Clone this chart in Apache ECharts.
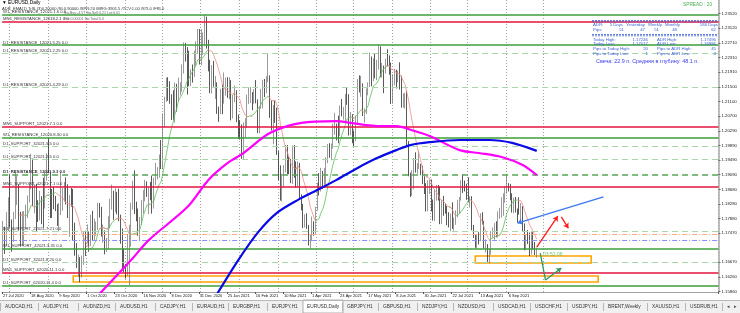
<!DOCTYPE html>
<html>
<head>
<meta charset="utf-8">
<script src="https://cdn.jsdelivr.net/npm/echarts@6.0.0/dist/echarts.min.js"></script>
<style>
html,body{margin:0;padding:0;background:#ffffff;}
#chart{width:740px;height:313px;}
</style>
</head>
<body>
<div id="chart"></div>
<script>
// ---------------- DATA ----------------
const firstBarDate = '2020-07-27';
const skippedDays = ['2020-12-25', '2021-01-01'];
const futureBars = 103;

const opens = [
1.1655,1.1753,1.1718,1.1791,1.1845,
1.1778,1.1762,1.1800,1.1867,1.1874,1.1785,1.1737,1.1739,1.1785,1.1813,1.1842,1.1870,1.1930,1.1834,1.1848,1.1796,1.1794,1.1832,1.1831,1.1819,1.1902,
1.1936,1.1914,1.1854,1.1850,1.1838,1.1816,1.1778,1.1800,1.1815,1.1845,1.1865,1.1846,1.1815,1.1849,1.1836,1.1772,1.1703,1.1657,1.1672,1.1632,1.1667,1.1744,
1.1720,1.1748,1.1714,1.1783,1.1735,1.1759,1.1762,1.1823,1.1813,1.1743,1.1747,1.1706,1.1717,1.1768,1.1819,1.1859,1.1815,1.1860,1.1810,1.1794,1.1745,1.1676,
1.1647,1.1641,1.1716,1.1720,1.1827,1.1875,1.1815,1.1812,1.1740,1.1777,1.1833,1.1855,1.1858,1.1850,1.1870,1.1857,1.1840,1.1892,1.1915,1.1915,1.1962,
1.1926,1.2071,1.2113,1.2147,1.2122,1.2109,1.2102,1.2078,1.2131,1.2111,1.2146,1.2152,1.2198,1.2264,1.2254,1.2240,1.2165,1.2189,1.2186,1.2214,1.2248,1.2298,
1.2216,1.2248,1.2297,1.2325,1.2271,1.2219,1.2151,1.2208,1.2156,1.2158,1.2081,1.2078,1.2131,1.2108,1.2165,1.2170,1.2142,1.2160,1.2113,1.2120,
1.2136,1.2060,1.2041,1.2036,1.1963,1.2048,1.2048,1.2118,1.2119,1.2133,1.2118,1.2130,1.2105,1.2040,1.2093,1.2118,1.2155,1.2151,1.2166,1.2172,
1.2075,1.2047,1.2090,1.2063,1.1967,1.1915,1.1846,1.1900,1.1929,1.1984,1.1951,1.1930,1.1901,1.1977,1.1915,1.1905,1.1940,1.1851,1.1816,1.1765,1.1795,1.1765,1.1720,
1.1728,1.1777,1.1762,1.1814,1.1874,1.1870,1.1915,1.1899,1.1911,1.1947,1.1979,1.1965,1.1983,1.2036,1.2036,1.2034,1.2016,1.2097,1.2083,1.2089,1.2125,1.2120,
1.2020,1.2062,1.2016,1.2004,1.2067,1.2164,1.2148,1.2150,1.2071,1.2080,1.2140,1.2152,1.2224,1.2173,1.2227,1.2180,1.2212,1.2246,1.2193,1.2194,1.2193,
1.2225,1.2214,1.2212,1.2125,1.2167,1.2190,1.2174,1.2178,1.2175,1.2108,1.2119,1.2125,1.1995,1.1908,1.1862,1.1917,1.1940,1.1925,1.1928,1.1935,1.1925,1.1893,
1.1858,1.1846,1.1865,1.1866,1.1822,1.1790,1.1846,1.1876,1.1861,1.1775,1.1835,1.1812,1.1806,1.1800,1.1781,1.1794,1.1771,1.1772,1.1801,1.1817,1.1843,1.1888,
1.1870,1.1869,1.1866,1.1834,1.1834,1.1761,1.1736,1.1718,1.1739,1.1728,1.1796,1.1778,1.1711,1.1712,1.1676,1.1697,1.1749,1.1754,1.1771,1.1753,1.1794,1.1798,
1.1808,1.1840,1.1874,1.1880,1.1870,1.1856,1.1816,1.1824,1.1813,1.1806,1.1804,1.1818,1.1764,1.1725,1.1727,1.1725,1.1688,1.1740,1.1718,1.1696
];
const highs = [
1.1781,1.1765,1.1805,1.1846,1.1909,
1.1785,1.1806,1.1916,1.1906,1.1882,1.1806,1.1807,1.1808,1.1826,1.1851,1.1883,1.1966,1.1952,1.1882,1.1883,1.1838,1.1864,1.1849,1.1900,1.1917,1.1967,
1.2011,1.1917,1.1869,1.1875,1.1850,1.1827,1.1830,1.1917,1.1871,1.1888,1.1901,1.1882,1.1852,1.1872,1.1869,1.1776,1.1720,1.1688,1.1681,1.1685,1.1751,1.1754,
1.1771,1.1752,1.1798,1.1809,1.1787,1.1779,1.1831,1.1830,1.1820,1.1771,1.1755,1.1734,1.1794,1.1842,1.1881,1.1864,1.1871,1.1861,1.1870,1.1798,1.1760,1.1705,
1.1662,1.1745,1.1770,1.1831,1.1892,1.1920,1.1834,1.1815,1.1792,1.1839,1.1866,1.1894,1.1890,1.1874,1.1888,1.1906,1.1900,1.1941,1.1929,1.1964,1.2004,
1.2077,1.2123,1.2176,1.2177,1.2166,1.2130,1.2141,1.2162,1.2159,1.2176,1.2163,1.2212,1.2273,1.2272,1.2260,1.2250,1.2199,1.2212,1.2250,1.2276,1.2310,1.2310,
1.2310,1.2300,1.2349,1.2344,1.2280,1.2225,1.2210,1.2222,1.2180,1.2163,1.2096,1.2145,1.2157,1.2190,1.2176,1.2177,1.2177,1.2169,1.2128,1.2154,
1.2141,1.2074,1.2058,1.2047,1.2052,1.2064,1.2129,1.2149,1.2150,1.2136,1.2144,1.2169,1.2116,1.2096,1.2145,1.2170,1.2172,1.2180,1.2243,1.2182,
1.2113,1.2100,1.2112,1.2093,1.1974,1.1934,1.1911,1.1935,1.1990,1.1990,1.1958,1.1952,1.1989,1.1990,1.1945,1.1945,1.1941,1.1854,1.1828,1.1799,1.1802,1.1770,1.1743,
1.1793,1.1780,1.1820,1.1886,1.1913,1.1927,1.1919,1.1927,1.1956,1.1993,1.1995,1.1994,1.2049,1.2079,1.2049,1.2071,1.2099,1.2117,1.2095,1.2131,1.2150,1.2130,
1.2081,1.2075,1.2030,1.2071,1.2172,1.2182,1.2181,1.2160,1.2091,1.2146,1.2163,1.2245,1.2234,1.2229,1.2242,1.2225,1.2266,1.2262,1.2216,1.2209,1.2228,
1.2254,1.2237,1.2217,1.2185,1.2200,1.2198,1.2195,1.2218,1.2181,1.2132,1.2134,1.2140,1.2001,1.1914,1.1921,1.1954,1.1970,1.1940,1.1975,1.1938,1.1933,1.1904,
1.1885,1.1893,1.1895,1.1895,1.1840,1.1868,1.1880,1.1880,1.1876,1.1838,1.1850,1.1829,1.1822,1.1805,1.1801,1.1832,1.1790,1.1810,1.1839,1.1847,1.1893,1.1909,
1.1892,1.1883,1.1901,1.1849,1.1849,1.1770,1.1742,1.1745,1.1750,1.1802,1.1805,1.1781,1.1730,1.1717,1.1704,1.1753,1.1763,1.1775,1.1780,1.1807,1.1817,1.1846,
1.1857,1.1876,1.1909,1.1885,1.1883,1.1857,1.1845,1.1847,1.1815,1.1846,1.1830,1.1822,1.1774,1.1742,1.1756,1.1749,1.1752,1.1750,1.1723,1.1707
];
const lows = [
1.1640,1.1690,1.1712,1.1753,1.1762,
1.1696,1.1723,1.1786,1.1825,1.1754,1.1711,1.1711,1.1712,1.1760,1.1789,1.1832,1.1868,1.1822,1.1802,1.1753,1.1778,1.1782,1.1772,1.1763,1.1815,1.1892,
1.1912,1.1789,1.1789,1.1813,1.1808,1.1767,1.1752,1.1797,1.1809,1.1834,1.1826,1.1789,1.1737,1.1820,1.1727,1.1685,1.1651,1.1627,1.1612,1.1625,1.1660,1.1684,
1.1719,1.1696,1.1711,1.1726,1.1728,1.1740,1.1756,1.1790,1.1738,1.1721,1.1689,1.1695,1.1702,1.1760,1.1812,1.1784,1.1805,1.1799,1.1780,1.1718,1.1650,1.1640,
1.1622,1.1630,1.1603,1.1710,1.1812,1.1800,1.1780,1.1740,1.1725,1.1770,1.1801,1.1835,1.1847,1.1800,1.1838,1.1801,1.1815,1.1880,1.1895,1.1900,1.1924,
1.1923,1.2039,1.2109,1.2112,1.2104,1.2059,1.2059,1.2052,1.2082,1.2110,1.2127,1.2137,1.2187,1.2220,1.2129,1.2152,1.2152,1.2162,1.2178,1.2208,1.2243,1.2212,
1.2210,1.2238,1.2265,1.2256,1.2193,1.2133,1.2132,1.2151,1.2117,1.2076,1.2054,1.2075,1.2075,1.2104,1.2126,1.2120,1.2116,1.2058,1.2063,1.2108,
1.2053,1.2007,1.2005,1.1952,1.1952,1.2010,1.2038,1.2103,1.2106,1.2086,1.2104,1.2105,1.2023,1.2022,1.2090,1.2091,1.2122,1.2133,1.2163,1.2065,
1.2030,1.1992,1.2051,1.1963,1.1893,1.1837,1.1835,1.1874,1.1915,1.1910,1.1910,1.1885,1.1883,1.1900,1.1873,1.1874,1.1842,1.1810,1.1761,1.1763,1.1759,1.1713,1.1704,
1.1725,1.1740,1.1745,1.1809,1.1851,1.1862,1.1869,1.1873,1.1877,1.1940,1.1955,1.1948,1.1980,1.2018,1.2003,1.1995,1.2015,1.2069,1.2060,1.2055,1.2101,1.2016,
1.2017,1.1995,1.1986,1.2001,1.2051,1.2135,1.2123,1.2070,1.2052,1.2076,1.2127,1.2150,1.2152,1.2166,1.2174,1.2169,1.2198,1.2177,1.2176,1.2133,1.2187,
1.2207,1.2184,1.2103,1.2104,1.2155,1.2146,1.2163,1.2143,1.2093,1.2093,1.2091,1.1989,1.1904,1.1847,1.1850,1.1868,1.1914,1.1911,1.1924,1.1907,1.1882,1.1855,
1.1807,1.1807,1.1855,1.1807,1.1782,1.1781,1.1837,1.1837,1.1772,1.1772,1.1795,1.1801,1.1769,1.1763,1.1752,1.1759,1.1754,1.1770,1.1791,1.1802,1.1837,1.1858,
1.1862,1.1839,1.1832,1.1818,1.1755,1.1734,1.1707,1.1705,1.1716,1.1725,1.1771,1.1705,1.1694,1.1666,1.1664,1.1688,1.1735,1.1729,1.1736,1.1735,1.1787,1.1790,
1.1795,1.1831,1.1856,1.1862,1.1838,1.1804,1.1802,1.1804,1.1776,1.1798,1.1780,1.1751,1.1700,1.1700,1.1717,1.1684,1.1688,1.1702,1.1687,1.1680
];
const closes = [
1.1753,1.1718,1.1791,1.1845,1.1778,
1.1762,1.1800,1.1867,1.1874,1.1785,1.1737,1.1739,1.1785,1.1813,1.1842,1.1870,1.1930,1.1834,1.1848,1.1796,1.1794,1.1832,1.1831,1.1819,1.1902,1.1936,
1.1914,1.1854,1.1850,1.1838,1.1816,1.1778,1.1800,1.1815,1.1845,1.1865,1.1846,1.1815,1.1849,1.1836,1.1772,1.1703,1.1657,1.1672,1.1632,1.1667,1.1744,1.1720,
1.1748,1.1714,1.1783,1.1735,1.1759,1.1762,1.1823,1.1813,1.1743,1.1747,1.1706,1.1717,1.1768,1.1819,1.1859,1.1815,1.1860,1.1810,1.1794,1.1745,1.1676,1.1647,
1.1641,1.1716,1.1720,1.1827,1.1875,1.1815,1.1812,1.1740,1.1777,1.1833,1.1855,1.1858,1.1850,1.1870,1.1857,1.1840,1.1892,1.1915,1.1915,1.1962,1.1926,
1.2071,1.2113,1.2147,1.2122,1.2109,1.2102,1.2078,1.2131,1.2111,1.2146,1.2152,1.2198,1.2264,1.2254,1.2240,1.2165,1.2189,1.2186,1.2214,1.2248,1.2298,1.2216,
1.2248,1.2297,1.2325,1.2271,1.2219,1.2151,1.2208,1.2156,1.2158,1.2081,1.2078,1.2131,1.2108,1.2165,1.2170,1.2142,1.2160,1.2113,1.2120,1.2136,
1.2060,1.2041,1.2036,1.1963,1.2048,1.2048,1.2118,1.2119,1.2133,1.2118,1.2130,1.2105,1.2040,1.2093,1.2118,1.2155,1.2151,1.2166,1.2172,1.2075,
1.2047,1.2090,1.2063,1.1967,1.1915,1.1846,1.1900,1.1929,1.1984,1.1951,1.1930,1.1901,1.1977,1.1915,1.1905,1.1940,1.1851,1.1816,1.1765,1.1795,1.1765,1.1720,1.1728,
1.1777,1.1762,1.1814,1.1874,1.1870,1.1915,1.1899,1.1911,1.1947,1.1979,1.1965,1.1983,1.2036,1.2036,1.2034,1.2016,1.2097,1.2083,1.2089,1.2125,1.2120,1.2020,
1.2062,1.2016,1.2004,1.2067,1.2164,1.2148,1.2150,1.2071,1.2080,1.2140,1.2152,1.2224,1.2173,1.2227,1.2180,1.2212,1.2246,1.2193,1.2194,1.2193,1.2225,
1.2214,1.2212,1.2125,1.2167,1.2190,1.2174,1.2178,1.2175,1.2108,1.2119,1.2125,1.1995,1.1908,1.1862,1.1917,1.1940,1.1925,1.1928,1.1935,1.1925,1.1893,1.1858,
1.1846,1.1865,1.1866,1.1822,1.1790,1.1846,1.1876,1.1861,1.1775,1.1835,1.1812,1.1806,1.1800,1.1781,1.1794,1.1771,1.1772,1.1801,1.1817,1.1843,1.1888,1.1870,
1.1869,1.1866,1.1834,1.1834,1.1761,1.1736,1.1718,1.1739,1.1728,1.1796,1.1778,1.1711,1.1712,1.1676,1.1697,1.1749,1.1754,1.1771,1.1753,1.1794,1.1798,1.1808,
1.1840,1.1874,1.1880,1.1870,1.1856,1.1816,1.1824,1.1813,1.1806,1.1804,1.1818,1.1764,1.1725,1.1727,1.1725,1.1688,1.1740,1.1718,1.1696,1.17025
];

// right price scale labels
const priceTicks = [1.23520,1.23120,1.22710,1.22310,1.21910,1.21500,1.21100,1.20700,1.20290,1.19890,1.19490,1.19090,1.18680,1.18280,1.17880,1.17470,1.16670,1.16260,1.15860];
const yMin = 1.15850, yMax = 1.23898;
// bottom date labels: every 16th bar, up to bar 288
const xLabelStep = 16, xLabelLast = 288;
// vertical dotted grid bars
const gridBars = [4,26,48,70,91,113,135,157,179,200,222,244,265,287,308];

// moving averages: [bar index, price]
const magentaMA = [[55,1.1580],[73,1.1673],[83,1.1728],[105,1.1819],[117,1.1894],[128,1.1941],[137,1.1968],[152,1.2023],[170,1.2051],[190,1.2056],[198,1.2051],[215,1.2042],[224,1.2042],[233,1.2031],[243,1.2015],[260,1.1976],[271,1.1968],[284,1.1957],[296,1.1935],[304,1.1907]];
const blueMA = [[122,1.1580],[134,1.1673],[145,1.1748],[156,1.1803],[168,1.1839],[179,1.1866],[190,1.1894],[202,1.1927],[213,1.1954],[224,1.1976],[232,1.1990],[243,1.1998],[260,1.2004],[277,1.2004],[290,1.1996],[304,1.1974]];
const fastMAPeriod = 10;

// horizontal levels
const levelPrices = [1.2349,1.2330,1.2266,1.2243,1.2150,1.2041,1.2011,1.1986,1.1950,1.1908,1.1875,1.1752,1.1743,1.1729,1.1705,1.1668,1.1638,1.1603];
const levelNames = ['W1_RESISTANCE_12021.1.6 0.0','MN1_RESISTANCE_12018.2.1 0.0','D1_RESISTANCE_12021.5.25 0.0','D1_RESISTANCE_32021.2.25 0.0','D1_RESISTANCE_42021.4.29 0.0','MN1_SUPPORT_12021.7.1 0.0','W1_RESISTANCE_12020.8.30 0.0','D1_SUPPORT_32021.5.5 0.0','D1_SUPPORT_12021.2.5 0.0','D1_RESISTANCE_12021.9.3 0.0','MN1_SUPPORT_42021.7.1 0.0','D1_SUPPORT_22021.7.21 0.0','','','W1_SUPPORT_42021.3.31 0.0','D1_SUPPORT_32021.8.20 0.0','MN1_SUPPORT_62020.11.1 0.0','D1_SUPPORT_62020.11.4 0.0'];
const levelKinds = ['major','monthly','major','minor','minor','monthly','major','minor','minor','key','monthly','minor','adrHigh','adrLow','major','minor','monthly','major'];

// drawn objects (bar index, price)
const zones = [[[269,1.16842],[335,1.16649]],[[40,1.16291],[339,1.16126]]];
const blueTrend = [[342,1.1847],[293,1.1775]];
const redArrows = [[[304,1.1709],[316,1.1794]],[[318,1.1792],[322,1.1761]]];
const greenPath = [[[306,1.1692],[309,1.1618]],[[309,1.1618],[318,1.1651]]];
const timerText = '03:52:08', timerAt = [307,1.1688];
const bidPrice = 1.17025;

const tabNames = ['AUDCAD,H1','AUDJPY,H1','AUDNZD,H1','AUDUSD,H1','CADJPY,H1','EURAUD,H1','EURGBP,H1','EURJPY,H1','EURUSD,Daily','GBPJPY,H1','GBPUSD,H1','NZDJPY,H1','NZDUSD,H1','USDCAD,H1','USDCHF,H1','USDJPY,H1','BRENT,Weekly','XAUUSD,H1','USDRUB,H1'];
const activeTab = 'EURUSD,Daily';

// ---------------- BUILD ----------------
const N = closes.length;
if (opens.length !== N || highs.length !== N || lows.length !== N) {
  throw new Error('length mismatch ' + [opens.length, highs.length, lows.length, N].join(','));
}
const MONTHS = ['Jan','Feb','Mar','Apr','May','Jun','Jul','Aug','Sep','Oct','Nov','Dec'];
function buildDates(start, count, skip) {
  const out = []; const d = new Date(start + 'T00:00:00Z');
  while (out.length < count) {
    const wd = d.getUTCDay(); const iso = d.toISOString().slice(0, 10);
    if (wd !== 0 && wd !== 6 && skip.indexOf(iso) < 0) out.push(d.getUTCDate() + ' ' + MONTHS[d.getUTCMonth()] + ' ' + d.getUTCFullYear());
    d.setUTCDate(d.getUTCDate() + 1);
  }
  return out;
}
const categories = buildDates(firstBarDate, N + futureBars, skippedDays);
const candleData = closes.map((c, i) => [opens[i], c, lows[i], highs[i]]);

function sma(src, n) {
  return src.map((v, i) => { if (i < n - 1) return null; let s = 0; for (let k = i - n + 1; k <= i; k++) s += src[k]; return s / n; });
}
const fastMA = sma(closes, fastMAPeriod);
const maUp = new Array(N).fill(null), maDn = new Array(N).fill(null);
for (let i = 1; i < N; i++) {
  if (fastMA[i] == null || fastMA[i - 1] == null) continue;
  const t = fastMA[i] >= fastMA[i - 1] ? maUp : maDn;
  t[i - 1] = fastMA[i - 1]; t[i] = fastMA[i];
}

const FONT = 'Liberation Sans, Arial, sans-serif';
const levelStyle = {
  major:   {color:'#3c9f3c', width:1.5, type:'solid'},
  monthly: {color:'#e3163c', width:1.5, type:'solid'},
  minor:   {color:'#a9d6a9', width:1.2, type:[6,4]},
  key:     {color:'#58a458', width:1.6, type:[6,4]},
  adrHigh: {color:'#ffab80', width:1,   type:[5,2,1,2]},
  adrLow:  {color:'#8d8dff', width:1,   type:[5,2,1,2]}
};
const levelMarks = levelPrices.map((p, i) => ({
  yAxis: p,
  lineStyle: levelStyle[levelKinds[i]],
  label: {
    show: !!levelNames[i], formatter: levelNames[i], position: 'insideStartTop', distance: [1, 0.5],
    fontSize: 4.2, fontFamily: FONT, color: '#333', fontWeight: levelKinds[i] === 'key' ? 'bold' : 'normal'
  }
}));

const isLabelIdx = (idx) => idx % xLabelStep === 0 && idx <= xLabelLast;
const isGridIdx = (idx) => gridBars.indexOf(idx) >= 0;

// ---------------- GRAPHIC TEXT ----------------
const g = [];
function txt(x, y, text, size, fill, align, weight) {
  g.push({type:'text', x:x, y:y, silent:true, z:50, style:{text:text, fontSize:size, fontFamily:FONT, fill:fill, align:align||'left', verticalAlign:'middle', fontWeight:weight||'normal'}});
}
function line(x1, y1, x2, y2, stroke, w, dash) {
  g.push({type:'line', silent:true, z:50, shape:{x1:x1, y1:y1, x2:x2, y2:y2}, style:{stroke:stroke, lineWidth:w||1, lineDash:dash||null}});
}
// header
txt(2, 3, '\u25BC EURUSD,Daily', 4.8, '#000');
txt(2, 8.5, 'ADR_EMA(1) TrSL(3)0.20000 /SL0.90000 /SPR:20 /MRG:3901.5 /TCV:1.00 /STL0 /FRL0', 4.1, '#333');
txt(64, 13, 'Sw.Buy:-4.57 Sw.Sell:0.21 Lot:0.01', 3.6, '#666');
txt(64, 19, 'Pnt:0.00001 Sw.Total:3.4', 3.6, '#666');
// spread + info panel
const BLUE = '#3f62d6';
txt(683, 5, 'SPREAD : 20', 4.8, '#4caf50');
line(592, 20.5, 718, 20.5, BLUE, 0.8, [2, 1]);
line(592, 21.8, 718, 21.8, BLUE, 0.8, [2, 1]);
txt(593, 25, 'ADR:', 4.3, BLUE);
[['5 Days',623],['Yesterday',645],['Weekly',662],['Monthly',680],['180 Days',718]].forEach(c => txt(c[1], 25, c[0], 4.3, BLUE, 'right'));
txt(593, 30, 'Pips:', 4.3, BLUE);
[['51',624],['47',645],['51',659],['48',677],['62',716]].forEach(c => txt(c[1], 30, c[0], 4.3, BLUE, 'right'));
line(592, 34.5, 718, 34.5, BLUE, 0.8, [2, 1]);
line(592, 35.8, 718, 35.8, BLUE, 0.8, [2, 1]);
const infoRows = [
  ['Today High:', '1.17246', 'ADR High:', '1.17496'],
  ['Today Low:', '1.17017', 'ADR Low:', '1.16986'],
  ['Pips to Today High:', '20', 'Pips to ADR High:', '45'],
  ['Pips to Today Low:', '1', 'Pips to ADR Low:', '4']
];
infoRows.forEach((r, k) => {
  const y = 39.5 + k * 4.8;
  txt(593, y, r[0], 4.3, BLUE); txt(648, y, r[1], 4.3, BLUE, 'right');
  txt(657, y, r[2], 4.3, BLUE); txt(716, y, r[3], 4.3, BLUE, 'right');
});
txt(596, 62, '\u0421\u0432\u0435\u0447\u0430: 22.9 \u043f. \u0421\u0440\u0435\u0434\u043d\u044f\u044f \u0432 \u0433\u043b\u0443\u0431\u0438\u043d\u0443: 48.1 \u043f.', 5.4, '#3a3af0');
// tab bar
g.push({type:'rect', silent:true, z:40, shape:{x:0, y:300, width:740, height:13}, style:{fill:'#f0f0f0'}});
line(0, 300.5, 740, 300.5, '#b8b8b8', 1);
const tabX = [5,43,83,120,160,197,233,272,307,347,383,422,458,498,535,572,608,652,690];
tabNames.forEach((name, i) => {
  if (name === activeTab) {
    g.push({type:'rect', silent:true, z:45, shape:{x:tabX[i]-4, y:300, width:40, height:13}, style:{fill:'#ffffff', stroke:'#9a9a9a', lineWidth:0.8}});
  } else {
    line(tabX[i]-4.5, 303, tabX[i]-4.5, 311, '#a8a8a8', 0.8);
  }
  txt(tabX[i], 306.5, name, 4.8, '#333');
});
line(722.5, 303, 722.5, 311, '#a8a8a8', 0.8);
txt(727, 306.5, '\u25C2', 5, '#444');
txt(734, 306.5, '\u25B8', 5, '#444');

// ---------------- OPTION ----------------
const chart = echarts.init(document.getElementById('chart'), null, {renderer:'canvas'});
const option = {
  animation: false,
  backgroundColor: '#ffffff',
  grid: {left:0, right:20, top:0, bottom:21, containLabel:false},
  xAxis: {
    type:'category', data: categories, boundaryGap: true,
    axisLine: {show:true, lineStyle:{color:'#a0a0a0', width:1}},
    axisTick: {show:true, interval: isLabelIdx, length:2, lineStyle:{color:'#555'}},
    axisLabel: {interval: isLabelIdx, fontSize:4, fontFamily:FONT, color:'#111', align:'left', margin:1.5, hideOverlap:false},
    splitLine: {show:true, interval: isGridIdx, lineStyle:{type:[1,2], color:'#8c8c8c', width:0.8}}
  },
  yAxis: {
    type:'value', position:'right', min:yMin, max:yMax, scale:true,
    splitLine: {show:false},
    axisLine: {show:true, lineStyle:{color:'#a8a8a8', width:1.5}},
    axisTick: {show:true, length:2, customValues: priceTicks, lineStyle:{color:'#666'}},
    axisLabel: {customValues: priceTicks, formatter: (v) => v.toFixed(5), fontSize:4.3, fontFamily:FONT, color:'#222', margin:3}
  },
  series: [
    {
      name:'EURUSD', type:'candlestick', data: candleData, barWidth: 1.1, z:2,
      itemStyle: {color:'#cfcfcf', color0:'#111111', borderColor:'#6e6e6e', borderColor0:'#111111', borderWidth:0.7}
    },
    {
      name:'levels', type:'line', data:[], z:3, silent:true,
      markLine: {silent:true, precision:5, symbol:['none','none'], animation:false, data: levelMarks}
    },
    {name:'MA fast up', type:'line', data: maUp, symbol:'none', connectNulls:false, z:4, lineStyle:{color:'#5cbf5c', width:0.8}},
    {name:'MA fast down', type:'line', data: maDn, symbol:'none', connectNulls:false, z:4, lineStyle:{color:'#f28a8a', width:0.8}},
    {name:'MA magenta', type:'line', data: magentaMA, symbol:'none', smooth:0.3, z:5, lineStyle:{color:'#ff00ff', width:2.2}},
    {name:'MA blue', type:'line', data: blueMA, symbol:'none', smooth:0.3, z:5, lineStyle:{color:'#0a0ae6', width:2.2}},
    {
      name:'objects', type:'line', data:[], z:6, silent:true,
      markArea: {silent:true, precision:5, itemStyle:{color:'rgba(0,0,0,0)', borderColor:'#ffa500', borderWidth:1.6},
        data: zones.map(z => [{coord:z[0]}, {coord:z[1]}])},
      markLine: {silent:true, precision:5, animation:false, symbolSize:5, label:{show:false},
        data: [
          [{coord:blueTrend[0], symbol:'none'}, {coord:blueTrend[1], symbol:'arrow', symbolSize:5, lineStyle:{color:'#3e78f0', width:1.4, type:'solid'}}],
          [{coord:redArrows[0][0], symbol:'none'}, {coord:redArrows[0][1], symbol:'arrow', symbolSize:5, lineStyle:{color:'#ff1a1a', width:1.3, type:'solid'}}],
          [{coord:redArrows[1][0], symbol:'none'}, {coord:redArrows[1][1], symbol:'arrow', symbolSize:5, lineStyle:{color:'#ff1a1a', width:1.3, type:'solid'}}],
          [{coord:greenPath[0][0], symbol:'none'}, {coord:greenPath[0][1], symbol:'none', lineStyle:{color:'#2f9a62', width:1.3, type:'solid'}}],
          [{coord:greenPath[1][0], symbol:'none'}, {coord:greenPath[1][1], symbol:'arrow', symbolSize:5, lineStyle:{color:'#2f9a62', width:1.3, type:'solid'}}],
          {yAxis: bidPrice, symbol:'none', lineStyle:{opacity:0},
           label:{show:true, position:'end', formatter: bidPrice.toFixed(5), backgroundColor:'#000', color:'#fff', fontSize:4.3, fontFamily:FONT, padding:[1,1.5,0.5,1.5], distance:1}}
        ]},
      markPoint: {silent:true, precision:5, symbol:'circle', symbolSize:0,
        data: [{coord: timerAt, label:{show:true, position:'right', distance:1, formatter: timerText, color:'#72c472', fontSize:5, fontFamily:FONT}}]}
    }
  ],
  graphic: g
};
chart.setOption(option);
</script>
</body>
</html>
